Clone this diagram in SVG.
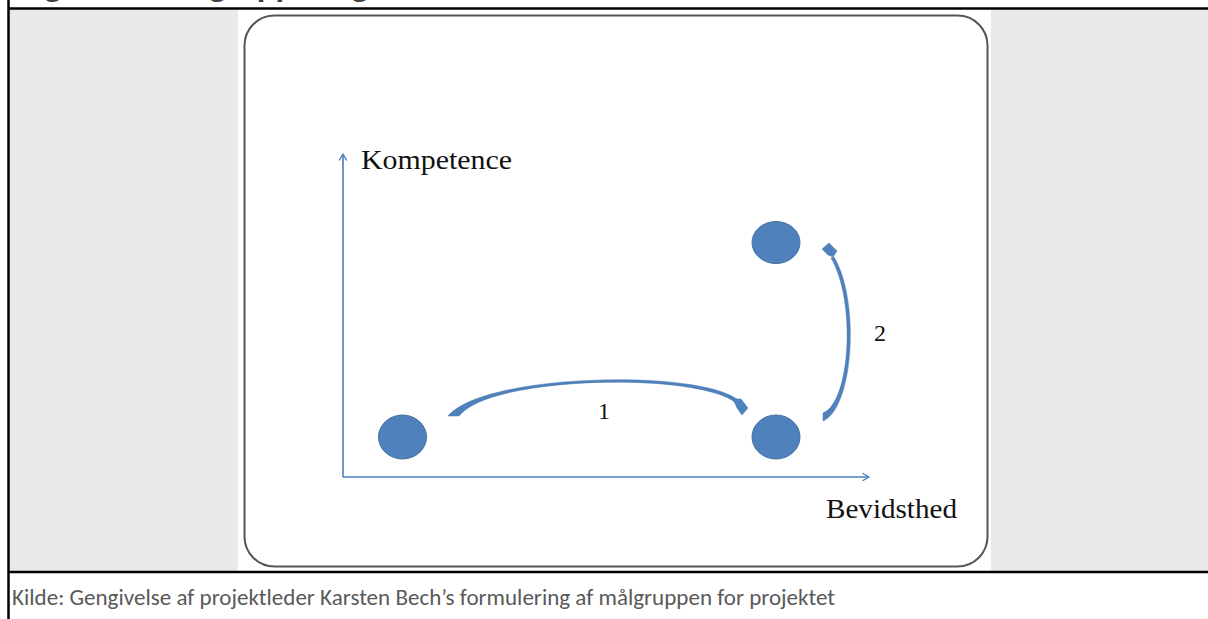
<svg xmlns="http://www.w3.org/2000/svg" width="1208" height="619" viewBox="0 0 1208 619">
<style>
.frame{stroke:#000;stroke-width:2.5;fill:none}
.axis{stroke:#4a7ebb;stroke-width:1.6;fill:none}
.head{stroke:#4a7ebb;stroke-width:1.4;fill:none;stroke-linecap:round;stroke-linejoin:round}
.dot{fill:#4f81bd;stroke:#41719c;stroke-width:1}
.arc{fill:#4f81bd;stroke:#4676ad;stroke-width:0.5}
.lbl{font-family:"Liberation Serif","DejaVu Serif",serif;fill:#111}
.foot{font-family:Carlito,Calibri,Lato,"Open Sans",sans-serif;fill:#595959;font-size:21.5px}
.title{font-family:Carlito,Calibri,Lato,sans-serif;font-weight:bold;fill:#404040;font-size:33px}
</style>
<rect x="0" y="0" width="1208" height="619" fill="#fff"/>
<text class="title" x="20" y="-3" textLength="348" lengthAdjust="spacingAndGlyphs">Figur 10: Målgruppering</text>
<rect x="9" y="9" width="229" height="563" fill="#e9e9e9"/>
<rect x="991" y="9" width="217" height="563" fill="#e9e9e9"/>
<rect x="244.5" y="15.5" width="743" height="551" rx="30" ry="30" fill="#fff" stroke="#555" stroke-width="2"/>
<line class="frame" x1="8" y1="8.5" x2="1208" y2="8.5"/>
<line class="frame" x1="8" y1="572" x2="1208" y2="572"/>
<line class="frame" x1="8.5" y1="0" x2="8.5" y2="619"/>
<g id="axes">
<line class="axis" x1="343" y1="477" x2="343" y2="154"/>
<polyline class="head" points="339.5,160 343,154 346.5,160"/>
<line class="axis" x1="343" y1="477" x2="869" y2="477"/>
<polyline class="head" points="863,473.5 869,477 863,480.5"/>
</g>
<g id="label-kompetence"><text class="lbl" x="361" y="169" font-size="27" textLength="151" lengthAdjust="spacingAndGlyphs">Kompetence</text></g>
<g id="label-bevidsthed"><text class="lbl" x="826" y="518" font-size="27" textLength="131" lengthAdjust="spacingAndGlyphs">Bevidsthed</text></g>
<g id="node-start"><ellipse class="dot" cx="402.5" cy="437" rx="24" ry="22"/></g>
<g id="node-mid"><ellipse class="dot" cx="776" cy="437" rx="24" ry="22"/></g>
<g id="node-top"><ellipse class="dot" cx="776" cy="242.5" rx="24" ry="21"/></g>
<g id="connectors">
<g id="arrow-1">
<path class="arc" d="M448,416 C484,373 700,369 738,400 L736,403 C700,372 490,375 459,416 Z"/>
<path class="arc" d="M733,399 L741,399 L748,408 L742,415 L737,408 Z"/>
<text class="lbl" x="598" y="419" font-size="24">1</text>
</g>
<g id="arrow-2">
<path class="arc" d="M823,421 C854,408 860,300 834,257 L831,258 C856,300 851,402 823,413 Z"/>
<path class="arc" d="M822,249 L829,243 L837,251 L833,257 L828,255 Z"/>
<text class="lbl" x="874" y="341" font-size="24">2</text>
</g>
</g>
<g id="footer"><text class="foot" x="12" y="605" textLength="823" lengthAdjust="spacingAndGlyphs">Kilde: Gengivelse af projektleder Karsten Bech’s formulering af målgruppen for projektet</text></g>
</svg>
